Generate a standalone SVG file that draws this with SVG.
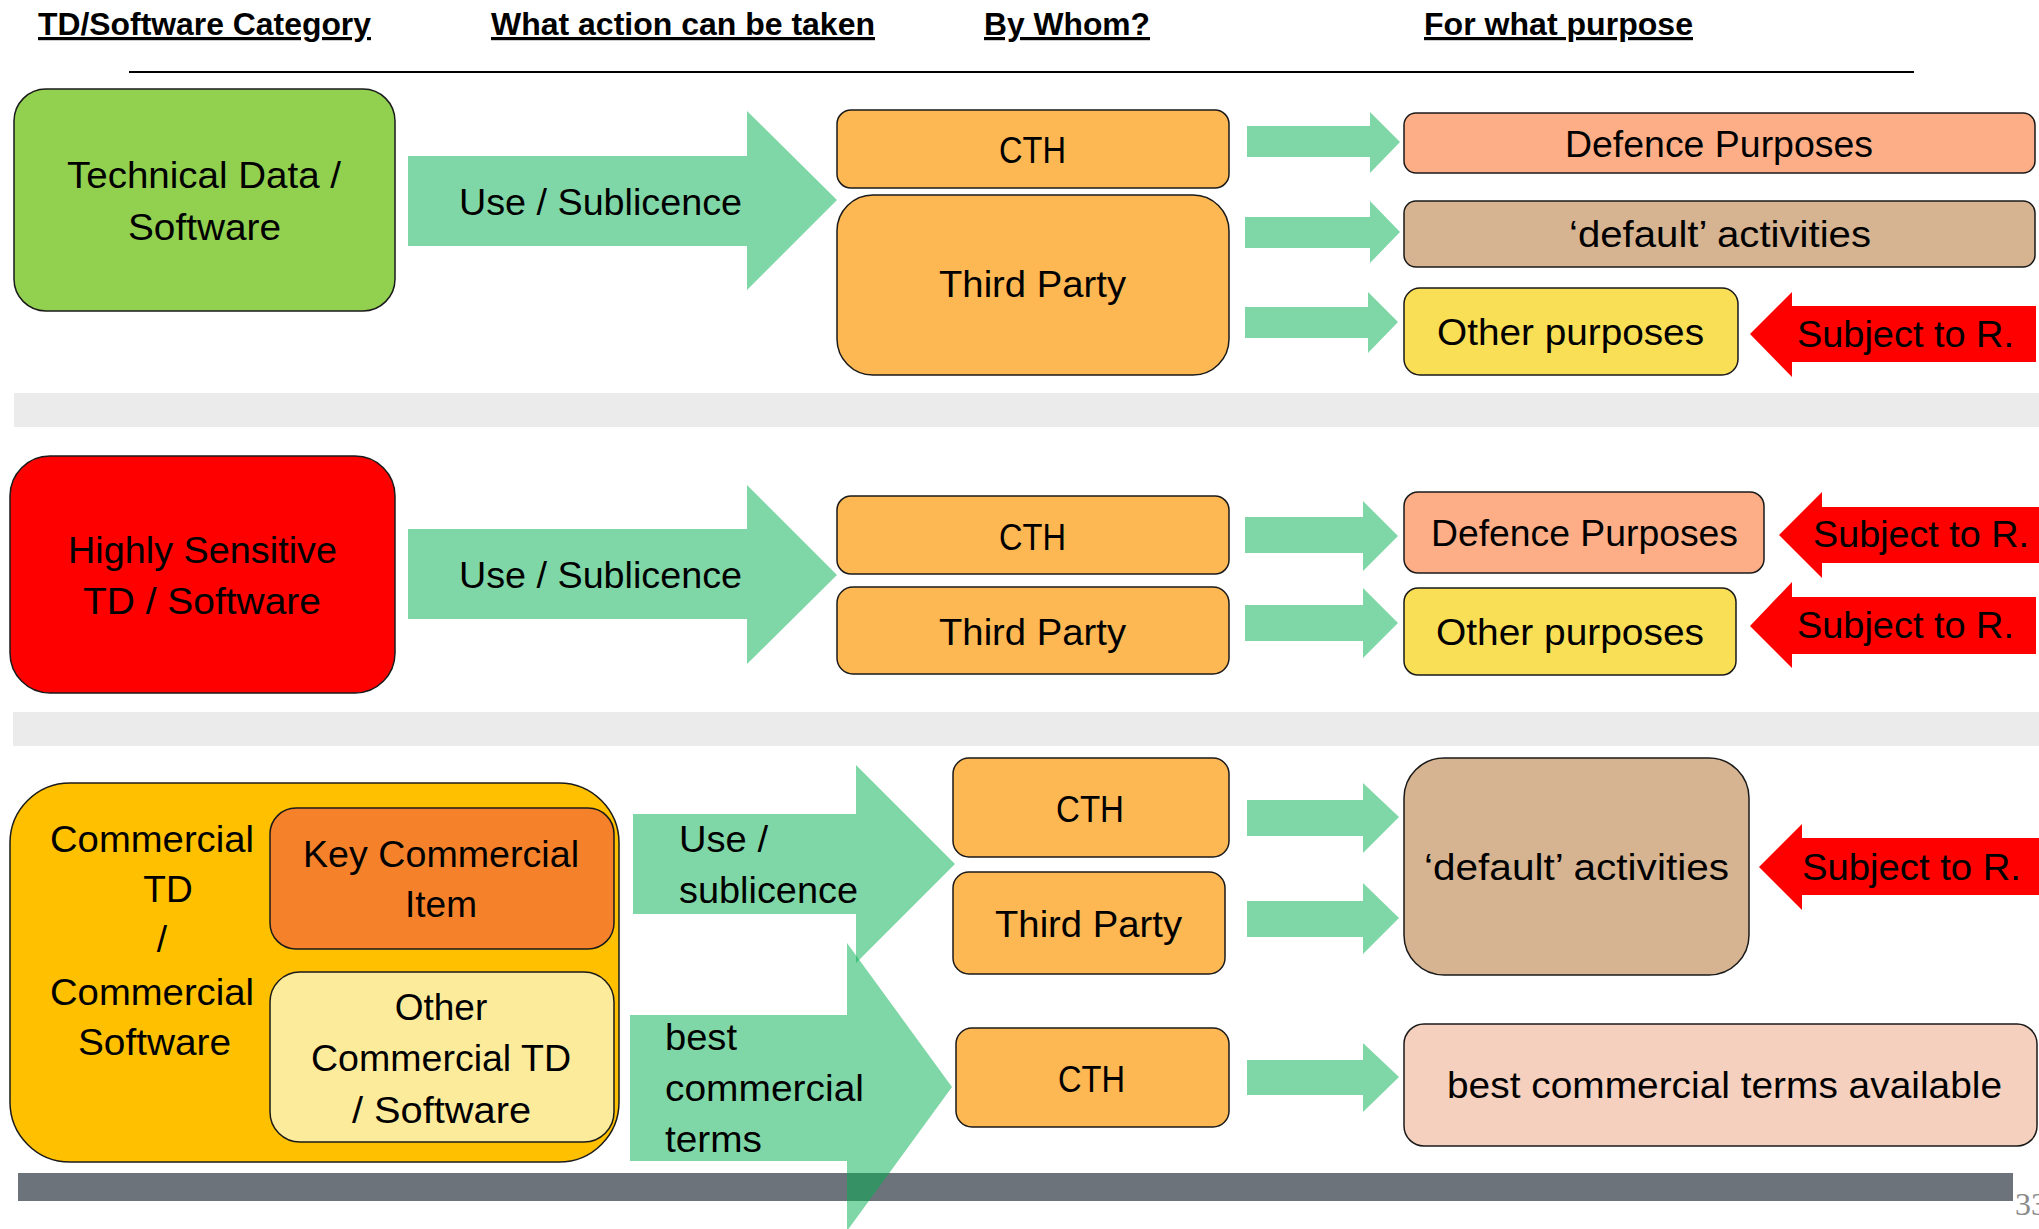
<svg xmlns="http://www.w3.org/2000/svg" width="2039" height="1229" viewBox="0 0 2039 1229">
<style>
.h{font-family:"Liberation Sans",Arial,sans-serif;font-size:32px;font-weight:bold;fill:#000;text-decoration:underline}
.t{font-family:"Liberation Sans",Arial,sans-serif;font-size:37px;fill:#000}
.c{text-anchor:middle}
.box{stroke:#1a1a1a;stroke-width:1.5}
.or{fill:#FDB853}
.ga{fill:#00B050;fill-opacity:0.5}
.ra{fill:#FF0000}
.pg{font-family:"Liberation Serif","Times New Roman",serif;font-size:32px;fill:#8a8a8a}
</style>
<rect width="2039" height="1229" fill="#fff"/>
<!-- headers -->
<g id="headers">
<text class="h" x="38" y="35" textLength="333" lengthAdjust="spacingAndGlyphs">TD/Software Category</text>
<text class="h" x="491" y="35" textLength="384" lengthAdjust="spacingAndGlyphs">What action can be taken</text>
<text class="h" x="984" y="35" textLength="166" lengthAdjust="spacingAndGlyphs">By Whom?</text>
<text class="h" x="1424" y="35" textLength="269" lengthAdjust="spacingAndGlyphs">For what purpose</text>
<line x1="129" y1="72" x2="1914" y2="72" stroke="#000" stroke-width="2"/>
</g>
<!-- bands -->
<rect x="14" y="393" width="2025" height="34" fill="#EBEBEB"/>
<rect x="13" y="712" width="2026" height="34" fill="#EBEBEB"/>
<rect x="18" y="1173" width="1995" height="28" fill="#6C737B"/>
<text class="pg" x="2015" y="1215">33</text>

<!-- Row 1 -->
<g id="td-software">
<rect class="box" x="14" y="89" width="381" height="222" rx="32" fill="#92D050"/>
<text class="t" x="67" y="188" textLength="274" lengthAdjust="spacingAndGlyphs">Technical Data /</text>
<text class="t" x="128" y="240" textLength="153" lengthAdjust="spacingAndGlyphs">Software</text>
</g>
<g id="cth-1">
<rect class="box or" x="837" y="110" width="392" height="78" rx="14"/>
<text class="t" x="999" y="163" textLength="67" lengthAdjust="spacingAndGlyphs">CTH</text>
</g>
<g id="third-party-1">
<rect class="box or" x="837" y="195" width="392" height="180" rx="36"/>
<text class="t" x="939" y="297" textLength="187" lengthAdjust="spacingAndGlyphs">Third Party</text>
</g>
<g id="defence-1">
<rect class="box" x="1404" y="113" width="631" height="60" rx="12" fill="#FDAE87"/>
<text class="t" x="1565" y="157" textLength="308" lengthAdjust="spacingAndGlyphs">Defence Purposes</text>
</g>
<g id="default-1">
<rect class="box" x="1404" y="201" width="631" height="66" rx="12" fill="#D6B491"/>
<text class="t" x="1569" y="247" textLength="302" lengthAdjust="spacingAndGlyphs">‘default’ activities</text>
</g>
<g id="other-1">
<rect class="box" x="1404" y="288" width="334" height="87" rx="16" fill="#F9DF55"/>
<text class="t" x="1437" y="345" textLength="267" lengthAdjust="spacingAndGlyphs">Other purposes</text>
</g>

<!-- Row 2 -->
<g id="highly-sensitive">
<rect class="box" x="10" y="456" width="385" height="237" rx="40" fill="#FF0000"/>
<text class="t" x="68" y="563" textLength="269" lengthAdjust="spacingAndGlyphs">Highly Sensitive</text>
<text class="t" x="83" y="614" textLength="238" lengthAdjust="spacingAndGlyphs">TD / Software</text>
</g>
<g id="cth-2">
<rect class="box or" x="837" y="496" width="392" height="78" rx="14"/>
<text class="t" x="999" y="550" textLength="67" lengthAdjust="spacingAndGlyphs">CTH</text>
</g>
<g id="third-party-2">
<rect class="box or" x="837" y="587" width="392" height="87" rx="16"/>
<text class="t" x="939" y="645" textLength="187" lengthAdjust="spacingAndGlyphs">Third Party</text>
</g>
<g id="defence-2">
<rect class="box" x="1404" y="492" width="360" height="81" rx="14" fill="#FDAE87"/>
<text class="t" x="1431" y="546" textLength="307" lengthAdjust="spacingAndGlyphs">Defence Purposes</text>
</g>
<g id="other-2">
<rect class="box" x="1404" y="588" width="332" height="87" rx="14" fill="#F9DF55"/>
<text class="t" x="1436" y="645" textLength="268" lengthAdjust="spacingAndGlyphs">Other purposes</text>
</g>

<!-- Row 3 -->
<g id="commercial">
<rect class="box" x="10" y="783" width="609" height="379" rx="60" fill="#FFC000"/>
<text class="t" x="50" y="852" textLength="204" lengthAdjust="spacingAndGlyphs">Commercial</text>
<text class="t c" x="168" y="902">TD</text>
<text class="t c" x="162" y="952">/</text>
<text class="t" x="50" y="1005" textLength="204" lengthAdjust="spacingAndGlyphs">Commercial</text>
<text class="t" x="78" y="1055" textLength="153" lengthAdjust="spacingAndGlyphs">Software</text>
</g>
<g id="key-commercial-item">
<rect class="box" x="270" y="808" width="344" height="141" rx="26" fill="#F5822A"/>
<text class="t" x="303" y="867" textLength="276" lengthAdjust="spacingAndGlyphs">Key Commercial</text>
<text class="t c" x="441" y="917">Item</text>
</g>
<g id="other-commercial">
<rect class="box" x="270" y="972" width="344" height="170" rx="30" fill="#FDEB9C"/>
<text class="t c" x="441" y="1020">Other</text>
<text class="t" x="311" y="1071" textLength="260" lengthAdjust="spacingAndGlyphs">Commercial TD</text>
<text class="t" x="352" y="1123" textLength="179" lengthAdjust="spacingAndGlyphs">/ Software</text>
</g>
<g id="cth-3a">
<rect class="box or" x="953" y="758" width="276" height="99" rx="16"/>
<text class="t" x="1056" y="822" textLength="68" lengthAdjust="spacingAndGlyphs">CTH</text>
</g>
<g id="third-party-3">
<rect class="box or" x="953" y="872" width="272" height="102" rx="16"/>
<text class="t" x="995" y="937" textLength="187" lengthAdjust="spacingAndGlyphs">Third Party</text>
</g>
<g id="cth-3b">
<rect class="box or" x="956" y="1028" width="273" height="99" rx="16"/>
<text class="t" x="1058" y="1092" textLength="67" lengthAdjust="spacingAndGlyphs">CTH</text>
</g>
<g id="default-3">
<rect class="box" x="1404" y="758" width="345" height="217" rx="40" fill="#D6B491"/>
<text class="t" x="1424" y="880" textLength="305" lengthAdjust="spacingAndGlyphs">‘default’ activities</text>
</g>
<g id="best-terms">
<rect class="box" x="1404" y="1024" width="633" height="122" rx="20" fill="#F5D0BE"/>
<text class="t" x="1447" y="1098" textLength="555" lengthAdjust="spacingAndGlyphs">best commercial terms available</text>
</g>

<!-- connectors -->
<g id="connectors">
<polygon class="ga" points="408,156 747,156 747,111 837,200 747,290 747,246 408,246"/>
<polygon class="ga" points="408,529 747,529 747,485 837,575 747,664 747,619 408,619"/>
<polygon class="ga" points="633,814 856,814 856,765 955,864 856,963 856,914 633,914"/>
<polygon class="ga" points="630,1015 847,1015 847,943 952,1087 847,1231 847,1161 630,1161"/>
<polygon class="ga" points="1247,126 1370,126 1370,112 1400,142 1370,173 1370,157 1247,157"/>
<polygon class="ga" points="1245,217 1370,217 1370,201 1400,232 1370,263 1370,248 1245,248"/>
<polygon class="ga" points="1245,307 1368,307 1368,292 1398,322 1368,353 1368,338 1245,338"/>
<polygon class="ga" points="1245,517 1363,517 1363,501 1398,536 1363,571 1363,553 1245,553"/>
<polygon class="ga" points="1245,605 1363,605 1363,588 1398,623 1363,658 1363,641 1245,641"/>
<polygon class="ga" points="1247,800 1363,800 1363,783 1399,817 1363,853 1363,836 1247,836"/>
<polygon class="ga" points="1247,901 1363,901 1363,883 1399,918 1363,954 1363,937 1247,937"/>
<polygon class="ga" points="1247,1060 1363,1060 1363,1043 1399,1077 1363,1112 1363,1095 1247,1095"/>
<polygon class="ra" points="1750,334 1792,292 1792,306 2036,306 2036,362 1792,362 1792,377"/>
<polygon class="ra" points="1779,535 1822,492 1822,507 2039,507 2039,563 1822,563 1822,578"/>
<polygon class="ra" points="1750,626 1792,582 1792,597 2036,597 2036,654 1792,654 1792,668"/>
<polygon class="ra" points="1759,867 1802,824 1802,838 2039,838 2039,895 1802,895 1802,910"/>
<text class="t" x="459" y="215" textLength="283" lengthAdjust="spacingAndGlyphs">Use / Sublicence</text>
<text class="t" x="459" y="588" textLength="283" lengthAdjust="spacingAndGlyphs">Use / Sublicence</text>
<text class="t" x="679" y="852" textLength="89" lengthAdjust="spacingAndGlyphs">Use /</text>
<text class="t" x="679" y="903" textLength="179" lengthAdjust="spacingAndGlyphs">sublicence</text>
<text class="t" x="665" y="1050" textLength="72" lengthAdjust="spacingAndGlyphs">best</text>
<text class="t" x="665" y="1101" textLength="199" lengthAdjust="spacingAndGlyphs">commercial</text>
<text class="t" x="665" y="1152" textLength="97" lengthAdjust="spacingAndGlyphs">terms</text>
<text class="t" x="1797" y="347" textLength="217" lengthAdjust="spacingAndGlyphs">Subject to R.</text>
<text class="t" x="1813" y="547" textLength="216" lengthAdjust="spacingAndGlyphs">Subject to R.</text>
<text class="t" x="1797" y="638" textLength="217" lengthAdjust="spacingAndGlyphs">Subject to R.</text>
<text class="t" x="1802" y="880" textLength="219" lengthAdjust="spacingAndGlyphs">Subject to R.</text>
</g>
</svg>
